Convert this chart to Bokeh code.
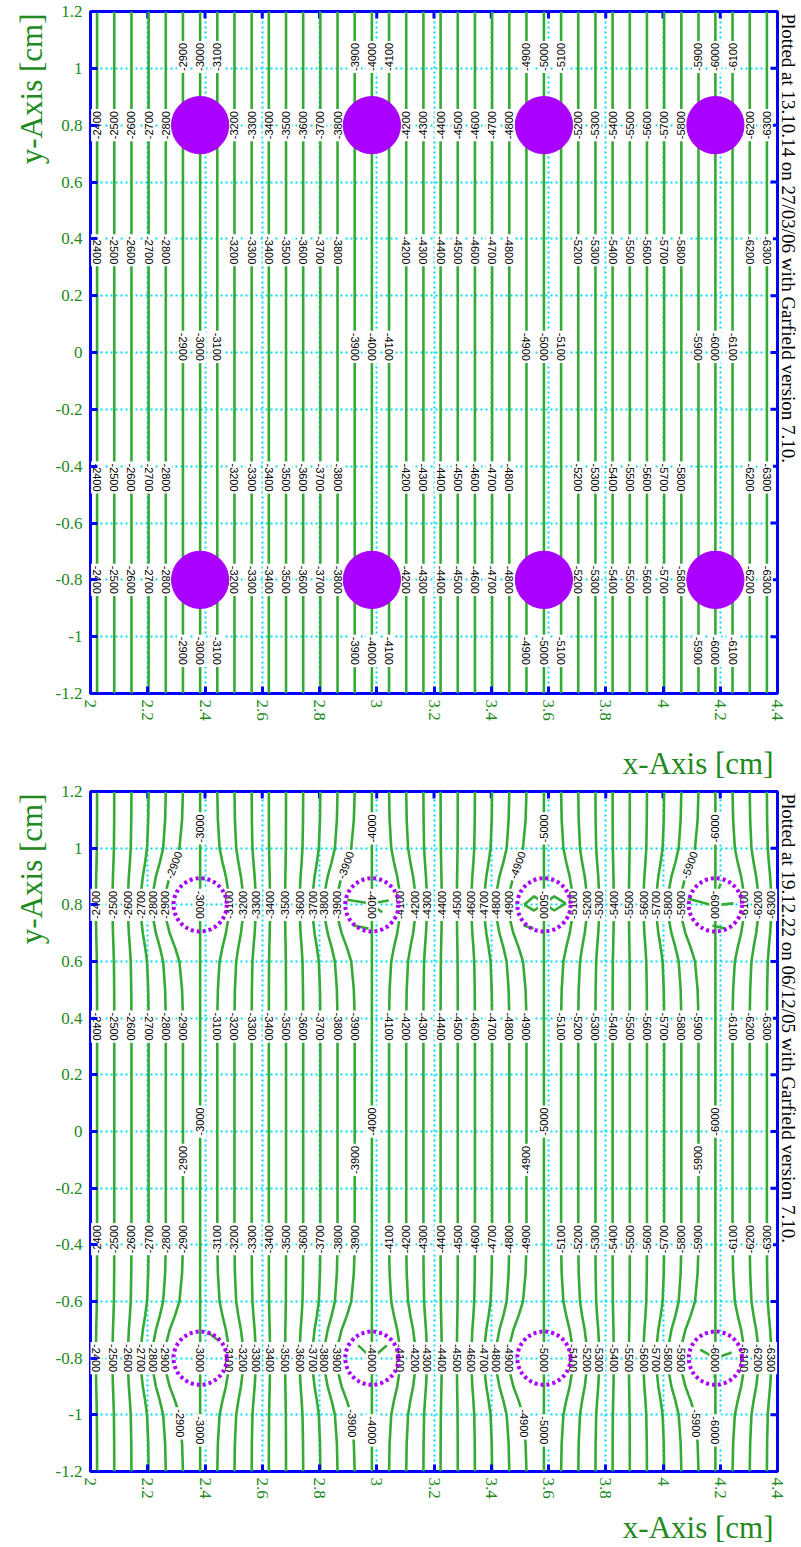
import numpy as np
from bokeh.plotting import figure
from bokeh.models import (ColumnDataSource, Label, FixedTicker,
                          CustomJSTickFormatter, Range1d)
from bokeh.layouts import column
from bokeh.embed import file_html
from bokeh.resources import INLINE
from bokeh.core.properties import value

# ---------------- data ----------------
LEVELS = [-2400, -2500, -2600, -2700, -2800, -2900, -3000, -3100, -3200, -3300,
          -3400, -3500, -3600, -3700, -3800, -3900, -4000, -4100, -4200, -4300,
          -4400, -4500, -4600, -4700, -4800, -4900, -5000, -5100, -5200, -5300,
          -5400, -5500, -5600, -5700, -5800, -5900, -6000, -6100, -6200, -6300]
# x position [cm] of each equipotential far from the wires
X_POS = [2.023, 2.083, 2.143, 2.203, 2.263, 2.323, 2.383, 2.443, 2.503, 2.563,
         2.623, 2.683, 2.743, 2.803, 2.863, 2.923, 2.983, 3.043, 3.103, 3.163,
         3.223, 3.283, 3.343, 3.403, 3.463, 3.523, 3.584, 3.644, 3.704, 3.764,
         3.824, 3.884, 3.944, 4.004, 4.064, 4.124, 4.183, 4.243, 4.303, 4.363]
# lower panel: sideways displacement [cm] of each line at the wire rows
BULGE = [-0.004, -0.006, -0.012, -0.027, -0.046, -0.062, 0.0, 0.040, 0.030, 0.014,
         0.004, -0.003, -0.012, -0.027, -0.046, -0.061, 0.0, 0.038, 0.032, 0.012,
         0.004, -0.003, -0.012, -0.027, -0.046, -0.061, 0.0, 0.040, 0.030, 0.013,
         0.004, -0.003, -0.012, -0.027, -0.046, -0.061, 0.0, 0.040, 0.030, 0.015]
# relative displacement versus vertical distance from a wire row
PROFILE_DY = [0.0, 0.05, 0.10, 0.15, 0.20, 0.30, 0.40]
PROFILE_W = [1.0, 0.95, 0.75, 0.45, 0.20, 0.05, 0.0]

WIRE_X = [2.383, 2.983, 3.584, 4.183]
WIRE_Y = [0.8, -0.8]
WIRE_LEVELS = [-3000, -4000, -5000, -6000]

# short stray contour pieces drawn inside the wire outlines (lower panel)
STRAY_X0 = [2.978, 2.978, 2.978, 2.919, 4.176, 4.176, 4.176, 4.173, 3.513, 2.412,
            2.983, 2.983, 2.983, 4.183, 4.183, 4.183, 2.380, 3.580]
STRAY_Y0 = [0.805, 0.805, 0.805, 0.727, 0.798, 0.798, 0.798, 0.727, 0.727, -0.710,
            -0.800, -0.800, -0.800, -0.800, -0.800, -0.800, 0.893, 0.893]
STRAY_X1 = [2.897, 3.042, 3.019, 2.971, 4.086, 4.246, 4.201, 4.218, 3.548, 2.447,
            2.935, 3.035, 2.985, 4.130, 4.240, 4.180, 2.400, 3.600]
STRAY_Y1 = [0.818, 0.815, 0.774, 0.716, 0.822, 0.805, 0.875, 0.716, 0.716, -0.738,
            -0.755, -0.755, -0.860, -0.770, -0.780, -0.870, 0.893, 0.893]
LOOP_X = [3.515, 3.550, 3.620, 3.660, 3.620, 3.550, 3.515]
LOOP_Y = [0.800, 0.830, 0.780, 0.805, 0.830, 0.780, 0.800]

X_TICKS = [2.0, 2.2, 2.4, 2.6, 2.8, 3.0, 3.2, 3.4, 3.6, 3.8, 4.0, 4.2, 4.4]
Y_TICKS = [-1.2, -1.0, -0.8, -0.6, -0.4, -0.2, 0.0, 0.2, 0.4, 0.6, 0.8, 1.0, 1.2]

STAMP_TOP = "Plotted at 13.10.14 on 27/03/06 with Garfield version 7.10."
STAMP_BOTTOM = "Plotted at 19.12.22 on 06/12/05 with Garfield version 7.10."

# ---------------- styling ----------------
GREEN_LINE = "#35aa35"
GREEN_TXT = "#208a20"
VIOLET = "#aa00ff"
BLUE = "#0000ff"
CYAN = "#00dcee"
SERIF = "Liberation Serif"
FRAME_W = 687
PX_X = FRAME_W / 2.4
HALF = np.pi / 2
TICK_LEN = 7

fmt = CustomJSTickFormatter(code="""
var v = Math.round(tick*10)/10;
if (Math.abs(v) < 1e-9) return '0';
return v.toString();
""")


def offset(lev):
    d = [abs(w - lev) for w in WIRE_LEVELS]
    w = WIRE_LEVELS[int(np.argmin(d))]
    return int(round((w - lev) / 100))


def weight(y):
    y = np.asarray(y, dtype=float)
    w = np.zeros_like(y)
    for wy in WIRE_Y:
        w = np.maximum(w, np.interp(np.abs(y - wy), PROFILE_DY, PROFILE_W))
    return w


def make_panel(height, b_top, b_bottom, stamp, title_dy):
    frame_h = height - b_top - b_bottom
    py = frame_h / 2.4
    p = figure(width=801, height=height, title=None,
               x_range=Range1d(2.0, 4.4), y_range=Range1d(-1.2, 1.2),
               output_backend="svg", toolbar_location=None,
               min_border_left=90, min_border_right=24,
               min_border_top=b_top, min_border_bottom=b_bottom)
    p.background_fill_color = "white"
    p.border_fill_color = "white"
    p.outline_line_color = BLUE
    p.outline_line_width = 3

    p.xgrid.ticker = FixedTicker(ticks=X_TICKS)
    p.ygrid.ticker = FixedTicker(ticks=Y_TICKS)
    for g in (p.xgrid[0], p.ygrid[0]):
        g.grid_line_color = CYAN
        g.grid_line_width = 2
        g.grid_line_dash = "2 3"

    xa = p.xaxis[0]
    ya = p.yaxis[0]
    xa.ticker = FixedTicker(ticks=X_TICKS)
    ya.ticker = FixedTicker(ticks=Y_TICKS)
    xa.major_label_orientation = -HALF
    xa.major_label_standoff = 6
    ya.major_label_standoff = 8
    for ax in (xa, ya):
        ax.formatter = fmt
        ax.axis_line_color = None
        ax.major_tick_in = TICK_LEN
        ax.major_tick_out = 0
        ax.major_tick_line_color = BLUE
        ax.major_tick_line_width = 3
        ax.minor_tick_line_color = None
        ax.major_label_text_font = SERIF
        ax.major_label_text_font_size = "17px"
        ax.major_label_text_color = GREEN_TXT

    # mirrored inward ticks on the top and right frame edges
    p.segment(x0=X_TICKS, y0=[1.2] * len(X_TICKS), x1=X_TICKS,
              y1=[1.2 - TICK_LEN / py] * len(X_TICKS),
              line_color=BLUE, line_width=3)
    p.segment(x0=[4.4] * len(Y_TICKS), y0=Y_TICKS,
              x1=[4.4 - TICK_LEN / PX_X] * len(Y_TICKS), y1=Y_TICKS,
              line_color=BLUE, line_width=3)

    # axis titles and stamp, placed in the side panels (not clipped)
    p.add_layout(Label(x=2.0 - 59 / PX_X, y=1.2 - 2 / py, text="y-Axis [cm]", angle=HALF,
                       text_align="right", text_baseline="middle",
                       text_font=SERIF, text_font_size="31px", text_color=GREEN_TXT), "left")
    p.add_layout(Label(x=2.0 + 683 / PX_X, y=-1.2 - title_dy / py, text="x-Axis [cm]",
                       text_align="right", text_baseline="middle",
                       text_font=SERIF, text_font_size="31px", text_color=GREEN_TXT), "below")
    p.add_layout(Label(x=2.0 + 698 / PX_X, y=1.2 - 2 / py, text=stamp, angle=-HALF,
                       text_align="left", text_baseline="middle",
                       text_font=SERIF, text_font_size="19px", text_color="black"), "right")
    return p


def add_labels(p, lx, ly, lt, la):
    src = ColumnDataSource(dict(x=lx, y=ly, t=lt, a=la))
    p.text(x="x", y="y", text="t", angle="a", source=src,
           text_font=value("Liberation Sans"), text_font_size="11px",
           text_align="center", text_baseline="middle", text_color="black",
           background_fill_color="white", padding=2)


wx = [x for _ in WIRE_Y for x in WIRE_X]
wy = [y for y in WIRE_Y for _ in WIRE_X]

# ---------------- upper panel: undisturbed field, solid wires ----------------
p1 = make_panel(782, 11, 89, STAMP_TOP, 70)
p1.multi_line(xs=[[x, x] for x in X_POS], ys=[[-1.2, 1.2] for _ in X_POS],
              line_color=GREEN_LINE, line_width=2.6)
lx, ly, lt, la = [], [], [], []
for lev, x in zip(LEVELS, X_POS):
    n = offset(lev)
    if abs(n) <= 1:
        rows = [(1.04, HALF), (0.02, -HALF), (-1.05, -HALF)]
    else:
        rows = [(0.80, HALF), (0.36, -HALF), (-0.44, -HALF), (-0.80, -HALF)]
    for yy, ang in rows:
        lx.append(x); ly.append(yy); lt.append(str(lev)); la.append(ang)
add_labels(p1, lx, ly, lt, la)
p1.circle(x=wx, y=wy, radius=0.1, fill_color=VIOLET, line_color=VIOLET)

# ---------------- lower panel: distorted field, dotted wire outlines ----------------
p2 = make_panel(765, 9, 76, STAMP_BOTTOM, 56)
ys = np.linspace(-1.2, 1.2, 481)
w = weight(ys)
xs_all = [list(x + b * w) for x, b in zip(X_POS, BULGE)]
p2.multi_line(xs=xs_all, ys=[list(ys)] * len(X_POS),
              line_color=GREEN_LINE, line_width=2.6)
p2.segment(x0=STRAY_X0, y0=STRAY_Y0, x1=STRAY_X1, y1=STRAY_Y1,
           line_color=GREEN_LINE, line_width=2.6)
p2.line(LOOP_X, LOOP_Y, line_color=GREEN_LINE, line_width=2.6)


def xat(i, y):
    return float(X_POS[i] + BULGE[i] * weight([y])[0])


lx, ly, lt, la = [], [], [], []
for i, lev in enumerate(LEVELS):
    n = offset(lev)
    if n == 0:
        rows = [(1.07, HALF), (0.80, -HALF), (0.035, HALF), (-0.80, -HALF), (-1.055, -HALF)]
    elif n == -1:
        rows = [(0.94, 1.22), (0.80, HALF), (0.37, -HALF), (-0.10, HALF),
                (-0.38, HALF), (-0.80, -HALF), (-1.03, -HALF)]
    else:
        rows = [(0.80, HALF), (0.37, -HALF), (-0.38, HALF), (-0.80, -HALF)]
    for yy, ang in rows:
        lx.append(xat(i, yy)); ly.append(yy); lt.append(str(lev)); la.append(ang)
add_labels(p2, lx, ly, lt, la)
p2.circle(x=wx, y=wy, radius=0.093, fill_color=None, line_color=VIOLET,
          line_width=4, line_dash="3 3")

layout = column(p1, p2)
open("out.html", "w").write(file_html(layout, INLINE))
